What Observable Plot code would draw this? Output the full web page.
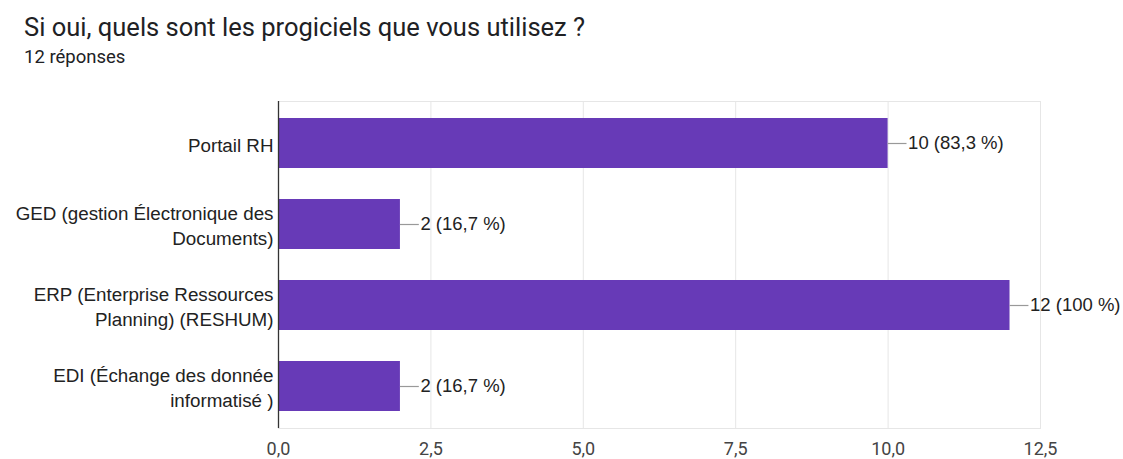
<!DOCTYPE html>
<html><head><meta charset="utf-8">
<script src="https://cdn.jsdelivr.net/npm/d3@7"></script>
<script src="https://cdn.jsdelivr.net/npm/@observablehq/plot@0.6"></script>
<style>
body{margin:0;background:#fff;font-family:Roboto,"Liberation Sans",Arial,sans-serif;}
#title{position:absolute;left:24px;top:12px;font-size:25.5px;color:#202124;white-space:nowrap;}
#sub{position:absolute;left:24px;top:46px;font-size:18.5px;color:#202124;white-space:nowrap;}
#chart{position:absolute;left:0;top:85px;}
</style></head>
<body>
<div id="title">Si oui, quels sont les progiciels que vous utilisez ?</div>
<div id="sub">12 réponses</div>
<div id="chart"></div>
<script>
const categories = ["Portail RH", "GED (gestion Électronique des\nDocuments)", "ERP (Enterprise Ressources\nPlanning) (RESHUM)", "EDI (Échange des donnée\ninformatisé )"];
const counts = [10, 2, 12, 2];
const totalResponses = 12;
const xTicks = [0, 2.5, 5, 7.5, 10, 12.5];

const fmtPct = v => (Math.round(v / totalResponses * 1000) / 10).toLocaleString("fr-FR", {maximumFractionDigits: 1});
const data = categories.map((c, i) => ({cat: c, n: counts[i], label: `${counts[i]} (${fmtPct(counts[i])} %)`}));
const fmtTick = d => d.toLocaleString("fr-FR", {minimumFractionDigits: 1, maximumFractionDigits: 1});

const plot = Plot.plot({
  width: 1123, height: 374,
  marginTop: 16, marginBottom: 31, marginLeft: 278, marginRight: 83,
  style: {fontFamily: '"Liberation Sans", Arial, sans-serif', fontSize: "18px", color: "#222", background: "#fff"},
  x: {domain: [0, 12.5], ticks: xTicks, tickFormat: fmtTick},
  y: {domain: categories, paddingInner: 0.385, paddingOuter: 0.2, label: null},
  marks: [
    Plot.gridX(xTicks, {stroke: "#e6e6e6", strokeOpacity: 1}),
    Plot.frame({stroke: "#e6e6e6"}),
    Plot.barX(data, {x: "n", y: "cat", fill: "#673ab7"}),
    Plot.ruleX([0], {stroke: "#333", strokeWidth: 1.3}),
    Plot.ruleY(data, {y: "cat", x1: "n", x2: d => d.n + 0.31, stroke: "#999", strokeWidth: 1.2}),
    Plot.text(data, {y: "cat", x: "n", text: "label", textAnchor: "start", dx: 20, fill: "#222", fontSize: 18.5}),
    Plot.axisX({ticks: xTicks, tickFormat: fmtTick, tickSize: 0, tickPadding: 14, label: null, fill: "#444", fontSize: 18, fontFamily: "Roboto"}),
    Plot.axisY({tickSize: 0, tickPadding: 5, label: null, fill: "#222", fontSize: 18.8, lineHeight: 1.35})
  ]
});
document.getElementById("chart").appendChild(plot);
</script>
</body></html>
